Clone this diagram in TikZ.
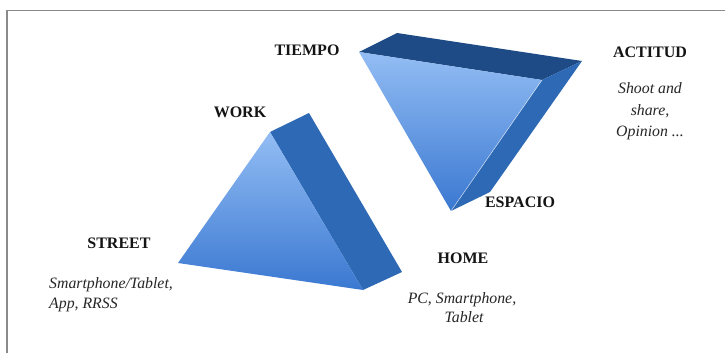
\documentclass[tikz,border=0pt]{standalone}
\usepackage{fontspec}
\setmainfont{Liberation Serif}
\begin{document}
\begin{tikzpicture}[x=1pt,y=-1pt,
  capslabel/.style={font=\fontsize{16}{18}\selectfont\bfseries, inner sep=0pt, anchor=base, text=black!92},
  desclabel/.style={font=\fontsize{15.8}{18}\selectfont\itshape, inner sep=0pt, anchor=base, text=black!85},
  frontface/.style={top color=frontTop, middle color=frontMid, bottom color=frontBot},
  sideface/.style={fill=sideBlue},
  topface/.style={fill=topNavy},
  frameline/.style={draw=frameGray, line width=1.5pt}]
\definecolor{frontTop}{HTML}{93BDF4}
\definecolor{frontMid}{HTML}{6A9FE6}
\definecolor{frontBot}{HTML}{3A78D1}
\definecolor{sideBlue}{HTML}{2D69B4}
\definecolor{topNavy}{HTML}{1E4A86}
\definecolor{frameGray}{HTML}{8A8A8A}
\useasboundingbox (0,0) rectangle (725,353);
\fill[white] (0,0) rectangle (725,353);
% frame
\coordinate (fTR) at (725,10.5);
\coordinate (fTL) at (7,10.5);
\coordinate (fBL) at (7,353);
\draw[frameline] (fTR) -- (fTL) -- (fBL);

% lower prism
\coordinate (F1) at (270,132);
\coordinate (F2) at (178,263);
\coordinate (F3) at (363,290);
\coordinate (B1) at (309,113);
\coordinate (B3) at (402,272);
\fill[sideface] (F1) -- (B1) -- (B3) -- (F3) -- cycle;
\shade[frontface] (F1) -- (F2) -- (F3) -- cycle;

% upper prism
\coordinate (T1) at (359,52);
\coordinate (T2) at (542,80);
\coordinate (T3) at (451,211);
\coordinate (U1) at (397,33);
\coordinate (U2) at (582,61);
\coordinate (U3) at (490,192);
\fill[topface] (T1) -- (U1) -- (U2) -- (T2) -- cycle;
\fill[sideface] (T2) -- (U2) -- (U3) -- (T3) -- cycle;
\shade[frontface] (T1) -- (T2) -- (T3) -- cycle;
\draw[white, opacity=0.6, line width=0.6pt] (T2) -- (T3);

% labels
\node[capslabel] (tiempo) at (307,56) {TIEMPO};
\node[capslabel] (actitud) at (650,57) {ACTITUD};
\node[desclabel] (act1) at (650,93) {Shoot and};
\node[desclabel] (act2) at (650,115) {share,};
\node[desclabel] (act3) at (650,136) {Opinion ...};
\node[capslabel] (work) at (240,117) {WORK};
\node[capslabel] (espacio) at (520,207.5) {ESPACIO};
\node[capslabel] (street) at (119,248) {STREET};
\node[desclabel, anchor=base west] (str1) at (49,288) {Smartphone/Tablet,};
\node[desclabel, anchor=base west] (str2) at (49,308) {App, RRSS};
\node[capslabel] (home) at (463,263) {HOME};
\node[desclabel] (home1) at (462,303) {PC, Smartphone,};
\node[desclabel] (home2) at (464,322) {Tablet};
\end{tikzpicture}
\end{document}
